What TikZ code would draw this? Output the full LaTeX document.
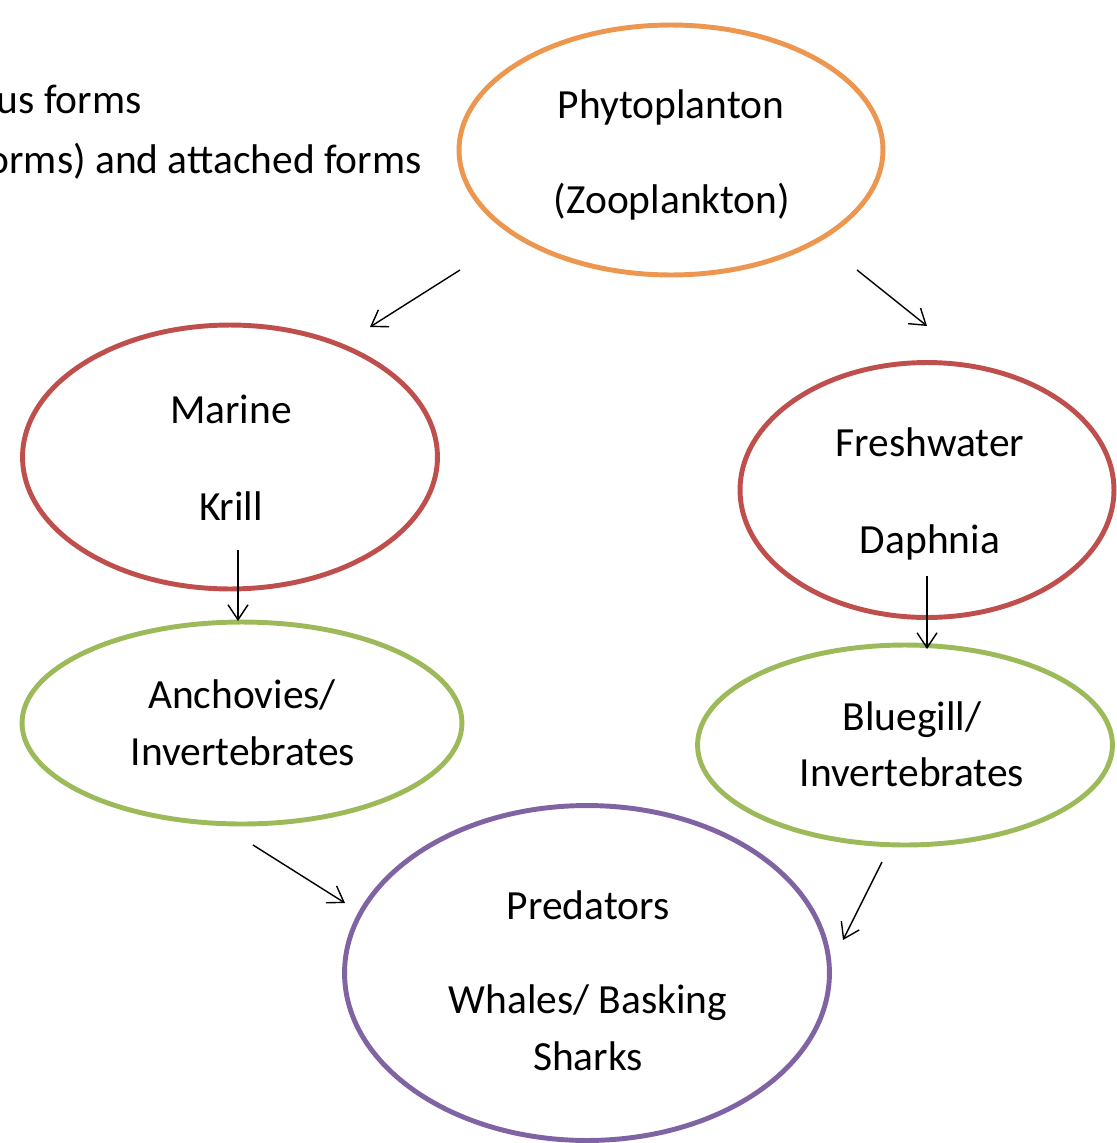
\documentclass[tikz,border=0pt]{standalone}
\usepackage{fontspec}
\setmainfont{Carlito}
\usetikzlibrary{shapes.geometric,arrows.meta}

\begin{document}
\begin{tikzpicture} [x=0.02cm,y=-0.02cm,>={Straight Barb[length=3mm,width=4mm]}]
    % colours and styles %
    \definecolor{og}{rgb}{0.93,0.59,0.31}
    \definecolor{rd}{rgb}{0.75,0.31,0.30}
    \definecolor{gn}{rgb}{0.61,0.73,0.35}
    \definecolor{pu}{rgb}{0.50,0.39,0.64}
    \tikzset{
      ring/.style={ellipse,line width=2.8pt,inner sep=0pt},
      word/.style={anchor=base,inner sep=0pt,font=\fontsize{23.6}{28}\selectfont},
      feeds/.style={->,line width=0.8pt}
    }
    \useasboundingbox (0,0) rectangle (1116,1143);

    % left over text %
    \node [word,anchor=base east] (t1) at (142,113) {us forms};
    \node [word,anchor=base east] (t2) at (422,173) {orms) and attached forms};

    % rings %
    \node [ring,draw=og,minimum width=8.48cm,minimum height=5cm] (phyto) at (671,150) {};
    \node [ring,draw=rd,minimum width=8.3cm,minimum height=5.28cm] (krill) at (230,457) {};
    \node [ring,draw=rd,minimum width=7.48cm,minimum height=5.1cm] (daph) at (927,490) {};
    \node [ring,draw=gn,minimum width=8.8cm,minimum height=4.04cm] (anch) at (242,723) {};
    \node [ring,draw=gn,minimum width=8.3cm,minimum height=4cm] (blue) at (905,745) {};
    \node [ring,draw=pu,minimum width=9.7cm,minimum height=6.7cm] (pred) at (587,973) {};

    % labels %
    \node [word] (phytoa) at (671,118) {Phytoplanton};
    \node [word] (phytob) at (672,213) {(Zooplankton)};
    \node [word] (krilla) at (231,423) {Marine};
    \node [word] (krillb) at (231,520) {Krill};
    \node [word] (dapha) at (930,456) {Freshwater};
    \node [word] (daphb) at (930,553) {Daphnia};
    \node [word] (ancha) at (242,708) {Anchovies/};
    \node [word] (anchb) at (243,765) {Invertebrates};
    \node [word] (bluea) at (912,730) {Bluegill/};
    \node [word] (blueb) at (912,786) {Invertebrates};
    \node [word] (preda) at (588,919) {Predators};
    \node [word] (predb) at (588,1013) {Whales/ Basking};
    \node [word] (predc) at (588,1070) {Sharks};

    % arrows %
    \coordinate (p1) at (460,270); \coordinate (p2) at (370,327);
    \coordinate (p3) at (857,270); \coordinate (p4) at (927,326);
    \coordinate (k1) at (238,550); \coordinate (k2) at (238,621);
    \coordinate (d1) at (927,576); \coordinate (d2) at (927,649);
    \coordinate (a1) at (253,845); \coordinate (a2) at (345,903);
    \coordinate (b1) at (882,862); \coordinate (b2) at (843,940);
    \draw [feeds] (p1) -- (p2);
    \draw [feeds] (p3) -- (p4);
    \draw [feeds] (k1) -- (k2);
    \draw [feeds] (d1) -- (d2);
    \draw [feeds] (a1) -- (a2);
    \draw [feeds] (b1) -- (b2);
  \end{tikzpicture}
\end{document}
